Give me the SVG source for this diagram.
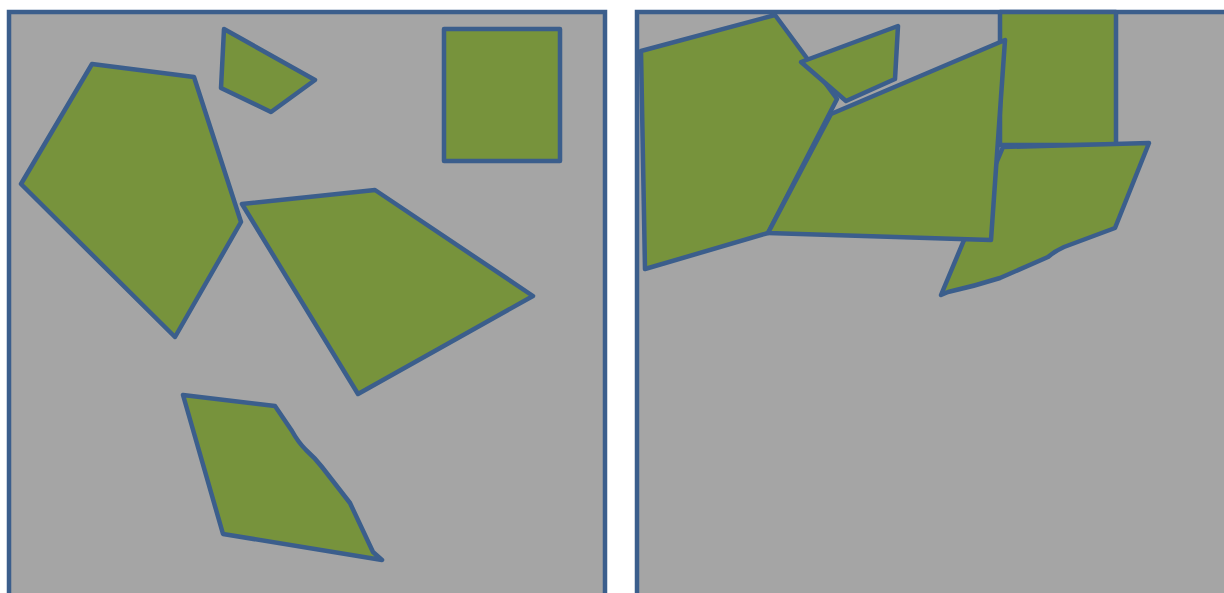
<svg xmlns="http://www.w3.org/2000/svg" width="1224" height="593" viewBox="0 0 1224 593">
<style>
.panel{fill:#A5A5A5;stroke:#3B5E8C;stroke-width:4.5}
.shape{fill:#77933C;stroke:#3B5E8C;stroke-width:4.5;stroke-linejoin:round}
</style>
<rect width="1224" height="593" fill="#FFFFFF"/>
<g id="left-panel">
<rect class="panel" x="9" y="12" width="596" height="600"/>
<polygon class="shape" points="92,64 194,77 241,222 175,337 21,184"/>
<polygon class="shape" points="224,29 315,80 271,112 221,88"/>
<rect class="shape" x="444" y="29" width="116" height="132"/>
<polygon class="shape" points="242,204 375,190 533,296 358,394"/>
<path class="shape" d="M183,395 L275,406 L292,431 Q298,442 306,450 Q315,458 322,467 L350,503 L373,552 L382,560 L223,534 Z"/>
</g>
<g id="right-panel">
<rect class="panel" x="637" y="12" width="600" height="600"/>
<polygon class="shape" points="641,51 775,15 837,99 768,233 645,269"/>
<polygon class="shape" points="801,62 898,26 895,79 846,101"/>
<rect class="shape" x="1000" y="12" width="116" height="133"/>
<path class="shape" d="M1003,147 L1149,143 L1115,228 L1064,247 Q1055,251 1048,257 L1000,278 Q975,286 948,292 L941,295 Z"/>
<polygon class="shape" points="831,114 1005,40 991,240 768,233"/>
</g>
</svg>
